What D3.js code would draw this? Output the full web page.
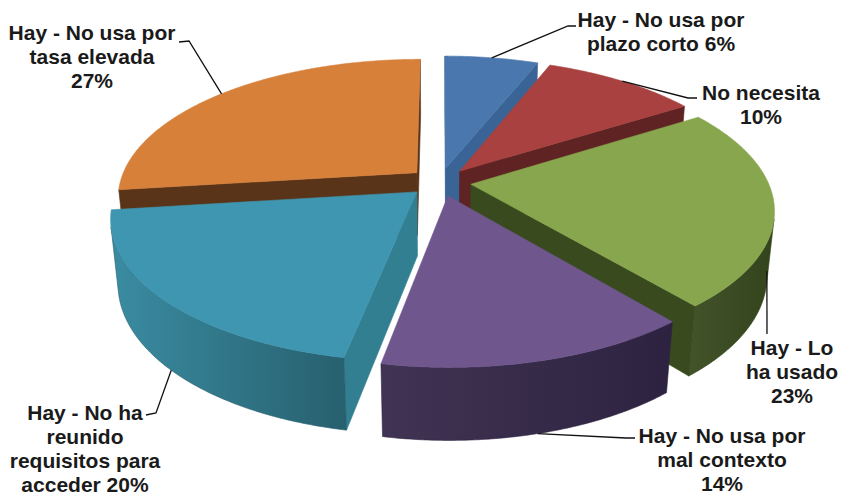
<!DOCTYPE html>
<html><head><meta charset="utf-8">
<script src="https://cdn.jsdelivr.net/npm/d3@7"></script>
<style>body{margin:0;background:#fff}svg{display:block}</style>
</head><body><svg id="chart" width="842" height="497"></svg>
<script>
// ---- data ----
const categories = ["Hay - No usa por plazo corto","No necesita","Hay - Lo ha usado","Hay - No usa por mal contexto","Hay - No ha reunido requisitos para acceder","Hay - No usa por tasa elevada"];
const values = [6, 10, 23, 14, 20, 27];
const labelLines = [
  ["Hay - No usa por","plazo corto 6%"],
  ["No necesita","10%"],
  ["Hay - Lo","ha usado","23%"],
  ["Hay - No usa por","mal contexto","14%"],
  ["Hay - No ha","reunido","requisitos para","acceder 20%"],
  ["Hay - No usa por","tasa elevada","27%"]
];

// ---- styles / layout ----
const topColors  = ["#4a77ad","#a8413f","#88a64d","#6f578e","#3f96b0","#d6803a"];
const sideColors = [["#3f6a9b","#34598a"],["#682827","#561f1e"],["#42532a","#34441c"],["#413353","#2d2341"],["#3a8ba1","#27606e"],["#5e3619","#4e2c13"]];
const cutColors  = ["#3a6495","#5e2322","#384a1e","#35294a","#327f92","#5a3418"];
// label layout: center x, first baseline, leader start near text, elbow
const labelLayout = [
  {x:661, y:27,  a:[576,26], b:[568,26]},
  {x:761, y:100, a:[697,98], b:[688,98]},
  {x:792, y:355, a:[767,334], b:[767,334]},
  {x:722, y:443, a:[635,438], b:[626,438]},
  {x:85,  y:420, a:[146,415], b:[156,413]},
  {x:92,  y:40,  a:[179,42], b:[189,41]}
];
const lineH = 24;

const view = {cx:440, cy:182, F:1518, D:5.11, phi:27.25*Math.PI/180, thick:0.245, explode:0.105};
const sn = Math.sin(view.phi), cs = Math.cos(view.phi);
function proj(u, v, y){
  const depth = view.D - y*sn + v*cs;
  return [view.cx + view.F*u/depth, view.cy - view.F*(y*cs + v*sn)/depth, depth];
}

const svg = d3.select("#chart");
const defs = svg.append("defs");
const gSide = svg.append("g");
const gTop = svg.append("g");
const gLab = svg.append("g");

const arcs = d3.pie().sort(null).value(d=>d)(values);
const line = d3.line().x(p=>p[0]).y(p=>p[1]);
const h = view.thick, e = view.explode;
const sideFaces = [];
const DEG = Math.PI/180;

arcs.forEach((d,i)=>{
  const a0 = d.startAngle, a1 = d.endAngle, m = (a0+a1)/2;
  const eu = e*Math.sin(m), ev = e*Math.cos(m);
  const P = (a,r,y)=>proj(eu + r*Math.sin(a), ev + r*Math.cos(a), y);
  const arcPts = (a,b,y)=>{const n=Math.max(2,Math.ceil(Math.abs(b-a)/(0.5*DEG)));return d3.range(n+1).map(k=>P(a+(b-a)*k/n,1,y));};
  d.P = P; d.mid = m;

  // outer side visibility
  const vis = a => (-eu*Math.sin(a) - 1 - Math.cos(a)*(view.D*cs + ev)) > 0;
  const N = 600; let va=null, vb=null;
  for(let k=0;k<=N;k++){const a=a0+(a1-a0)*k/N; if(vis(a)){ if(va===null) va=a; vb=a; }}
  if(va!==null && vb-va>1e-4){
    const pts = arcPts(va,vb,0).concat(arcPts(vb,va,-h));
    const gid = "sg"+i;
    const x0 = P(va,1,-h/2)[0], x1 = P(vb,1,-h/2)[0];
    const lg = defs.append("linearGradient").attr("id",gid).attr("gradientUnits","userSpaceOnUse")
      .attr("x1",Math.min(x0,x1)).attr("x2",Math.max(x0,x1)).attr("y1",0).attr("y2",0);
    lg.append("stop").attr("offset","0").attr("stop-color",sideColors[i][0]);
    lg.append("stop").attr("offset","1").attr("stop-color",sideColors[i][1]);
    sideFaces.push({pts, fill:"url(#"+gid+")", stroke:sideColors[i][1], depth:P((va+vb)/2,1,-h/2)[2]});
  }
  // cut faces
  const camTerm = [-eu, view.D*cs + ev];
  [[a0, -Math.cos(a0), -Math.sin(a0)], [a1, Math.cos(a1), Math.sin(a1)]].forEach(([a,nx,nz])=>{
    if(nx*camTerm[0] + nz*camTerm[1] > 1e-6){
      const pts=[P(a,0,0),P(a,1,0),P(a,1,-h),P(a,0,-h)];
      sideFaces.push({pts, fill:cutColors[i], stroke:cutColors[i], depth:P(a,0.5,-h/2)[2]});
    }
  });
  d.topPts = [P(0,0,0)].concat(arcPts(a0,a1,0));
});

sideFaces.sort((a,b)=>b.depth-a.depth);
gSide.selectAll("path").data(sideFaces).join("path")
  .attr("d",f=>line(f.pts)+"Z").attr("fill",f=>f.fill)
  .attr("stroke",f=>f.stroke).attr("stroke-width",0.6).attr("stroke-linejoin","round");

gTop.selectAll("path").data(arcs).join("path")
  .attr("d",d=>line(d.topPts)+"Z").attr("fill",(d,i)=>topColors[i])
  .attr("stroke",(d,i)=>topColors[i]).attr("stroke-width",0.6).attr("stroke-linejoin","round");

// leaders
arcs.forEach((d,i)=>{
  const L = labelLayout[i];
  const end = d.P(d.mid, 1, Math.cos(d.mid)<0 ? -h : 0);
  gLab.append("path").attr("d", line([L.a, L.b, end]))
    .attr("fill","none").attr("stroke","#111").attr("stroke-width",1.3);
});
// labels
arcs.forEach((d,i)=>{
  const L = labelLayout[i];
  const t = gLab.append("text").attr("text-anchor","middle")
    .attr("font-family","'Liberation Sans', Arial, sans-serif").attr("font-weight","bold")
    .attr("font-size",21).attr("fill","#1a1a1a");
  labelLines[i].forEach((s,k)=>t.append("tspan").attr("x",L.x).attr("y",L.y+k*lineH).text(s));
});
</script></body></html>
